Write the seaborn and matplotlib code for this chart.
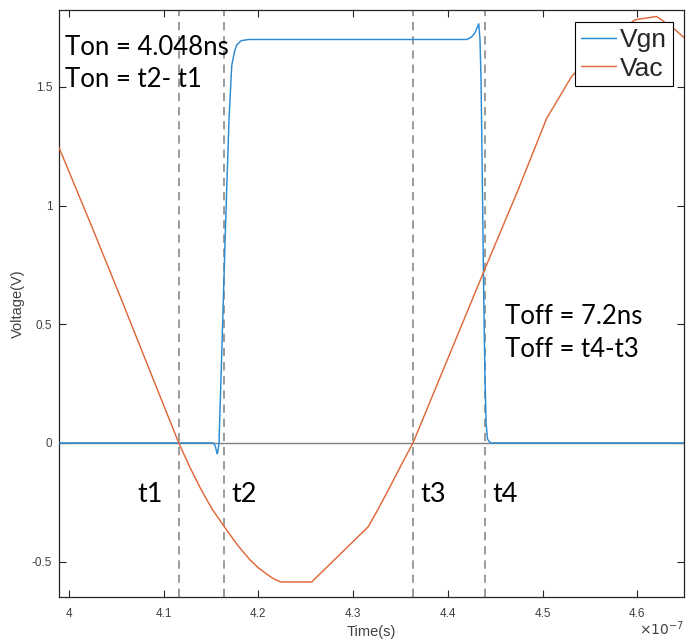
import numpy as np
import pandas as pd
import matplotlib
matplotlib.use("Agg")
import matplotlib.pyplot as plt
import seaborn as sns

# time in units of 1e-7 s
vgn_t = [3.990, 4.1525, 4.1545, 4.1560, 4.1568, 4.1576, 4.1586, 4.1620, 4.1655, 4.1691,
         4.1720, 4.1750, 4.1773, 4.1820, 4.1900, 4.4200, 4.4250, 4.4290, 4.4310, 4.4327,
         4.4340, 4.4351, 4.4365, 4.4380, 4.4393, 4.4405, 4.4420, 4.4450, 4.6496]
vgn_v = [0.0, 0.0, -0.012, -0.035, -0.046, -0.030, 0.0, 0.45, 0.92, 1.36,
         1.59, 1.65, 1.677, 1.695, 1.700, 1.700, 1.710, 1.730, 1.750, 1.766,
         1.70, 1.53, 1.10, 0.60, 0.265, 0.08, 0.015, 0.0, 0.0]

vac_t = [3.990, 4.0250, 4.0543, 4.0850, 4.1161, 4.1280, 4.1387, 4.1510, 4.1636, 4.1780,
         4.1913, 4.2000, 4.2089, 4.2160, 4.2237, 4.2564, 4.3161, 4.3280, 4.3390, 4.3510,
         4.3633, 4.4396, 4.4742, 4.5044, 4.5097, 4.5307, 4.5650, 4.5977, 4.6204,
         4.6380, 4.6496]
vac_v = [1.242, 0.905, 0.617, 0.310, 0.0, -0.104, -0.189, -0.277, -0.350, -0.430,
         -0.493, -0.526, -0.553, -0.572, -0.586, -0.586, -0.353, -0.268, -0.185, -0.092,
         0.0, 0.737, 1.066, 1.368, 1.403, 1.544, 1.690, 1.783, 1.797,
         1.748, 1.707]

marker_t = [4.1161, 4.1636, 4.3633, 4.4396]
marker_labels = ["t1", "t2", "t3", "t4"]
marker_label_x = [4.0721, 4.1713, 4.3714, 4.4470]

x_ticks = [4.0, 4.1, 4.2, 4.3, 4.4, 4.5, 4.6]
x_tick_labels = ["4", "4.1", "4.2", "4.3", "4.4", "4.5", "4.6"]
y_ticks = [-0.5, 0, 0.5, 1, 1.5]
y_tick_labels = ["-0.5", "0", "0.5", "1", "1.5"]

sns.set_style("ticks")
plt.rcParams['font.family'] = ['Liberation Sans', 'DejaVu Sans']

fig = plt.figure(figsize=(6.86, 6.39), dpi=100)
ax = fig.add_axes([0.0864, 0.0662, 0.9111, 0.9177])

df = pd.concat([
    pd.DataFrame({"t": vgn_t, "v": vgn_v, "s": "Vgn"}),
    pd.DataFrame({"t": vac_t, "v": vac_v, "s": "Vac"}),
])

ax.axhline(0, color="#7f7f7f", lw=1.0, zorder=1)
for xt in marker_t:
    ax.axvline(xt, color="#8a8a8a", lw=1.2, dashes=(5, 3.5), zorder=1)

sns.lineplot(data=df, x="t", y="v", hue="s", palette={"Vgn": "#2C8AD3", "Vac": "#E0683A"},
             sort=False, estimator=None, lw=1.05, ax=ax, zorder=3)

ax.set_xlim(3.990, 4.6496)
ax.set_ylim(-0.648, 1.823)
ax.set_xticks(x_ticks)
ax.set_xticklabels(x_tick_labels)
ax.set_yticks(y_ticks)
ax.set_yticklabels(y_tick_labels)
ax.tick_params(direction="in", length=5, width=0.8, colors="#262626", labelsize=8.5,
               top=True, right=True, labelcolor="#404040")
ax.tick_params(axis="x", pad=8)
ax.tick_params(axis="y", pad=5)
for sp in ax.spines.values():
    sp.set_color("#262626")
    sp.set_linewidth(0.9)

ax.set_xlabel("Time(s)", fontsize=10.5, color="#404040")
ax.set_ylabel("Voltage(V)", fontsize=10.5, color="#404040")
ax.xaxis.set_label_coords(0.5, -0.0597)
ax.yaxis.set_label_coords(-0.066, 0.5)
ax.xaxis.label.set_va("center")
ax.yaxis.label.set_va("center")
ax.text(1.0, -0.066, r"$\times10^{-7}$", transform=ax.transAxes, ha="right", va="baseline",
        fontsize=10, color="#404040")

ann = dict(fontsize=18.5, family=["Lato", "DejaVu Sans"], color="black", va="baseline", zorder=5)
ax.text(3.996, 1.635, "Ton = 4.048ns", **ann)
ax.text(3.996, 1.5015, "Ton = t2- t1", **ann)
ax.text(4.4604, 0.500, "Toff = 7.2ns", **ann)
ax.text(4.4604, 0.3637, "Toff = t4-t3", **ann)
tann = dict(ann, fontsize=19.5)
for lx, lab in zip(marker_label_x, marker_labels):
    ax.text(lx, -0.247, lab, **tann)

leg = ax.legend(loc="upper right", bbox_to_anchor=(0.982, 0.980), borderaxespad=0,
                fontsize=19, frameon=True, fancybox=False, framealpha=1,
                edgecolor="black", handlelength=1.35, handletextpad=0.15,
                labelspacing=0.18, borderpad=0.22, title=None)
leg.get_frame().set_linewidth(0.8)
for line in leg.get_lines():
    line.set_linewidth(1.05)

fig.savefig("out.png", dpi=100)
